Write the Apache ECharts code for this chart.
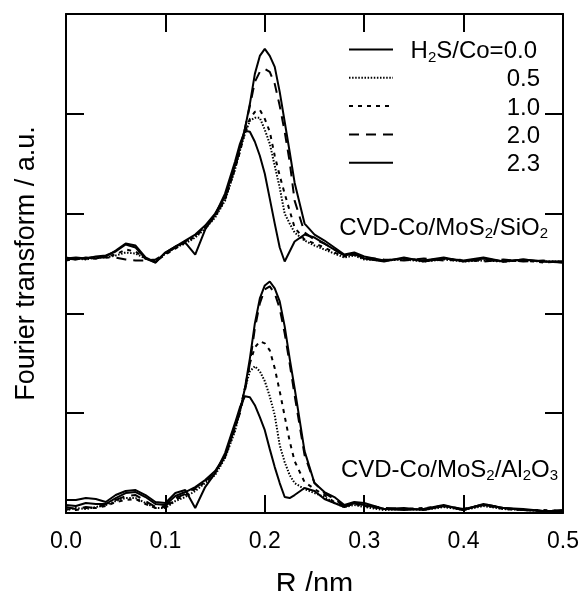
<!DOCTYPE html>
<html>
<head>
<meta charset="utf-8">
<script src="https://cdn.jsdelivr.net/npm/echarts@6/dist/echarts.min.js"></script>
<style>
html,body{margin:0;padding:0;background:#fff;}
#chart{width:586px;height:591px;}
</style>
</head>
<body>
<div id="chart"></div>
<script>
// R grid (nm)
const R = [0, 0.01, 0.02, 0.03, 0.04, 0.05, 0.06, 0.07, 0.08, 0.09, 0.10, 0.11, 0.12, 0.13, 0.14, 0.15, 0.16, 0.17, 0.175, 0.18, 0.185, 0.19, 0.195, 0.20, 0.205, 0.21, 0.215, 0.22, 0.225, 0.23, 0.24, 0.25, 0.26, 0.27, 0.28, 0.29, 0.30, 0.32, 0.34, 0.36, 0.38, 0.40, 0.42, 0.44, 0.46, 0.48, 0.50];

// H2S/Co ratio labels
const ratioLabels = ['0.0', '0.5', '1.0', '2.0', '2.3'];
const xTickLabels = ['0.0', '0.1', '0.2', '0.3', '0.4', '0.5'];

// CVD-Co/MoS2/SiO2 (upper curves, offset in a.u.)
const sio2_00 = [2.55,2.54,2.56,2.55,2.57,2.63,2.70,2.68,2.56,2.51,2.61,2.67,2.71,2.59,2.84,2.99,3.20,3.52,3.70,3.83,3.82,3.72,3.58,3.40,3.15,2.90,2.66,2.52,2.62,2.72,2.79,2.76,2.70,2.64,2.58,2.60,2.55,2.52,2.56,2.52,2.55,2.53,2.56,2.52,2.54,2.52,2.51];
const sio2_05 = [2.54,2.55,2.54,2.56,2.56,2.58,2.61,2.60,2.55,2.52,2.60,2.66,2.70,2.76,2.85,2.96,3.13,3.44,3.63,3.80,3.93,3.96,3.96,3.84,3.70,3.48,3.26,3.00,2.90,2.81,2.73,2.68,2.64,2.60,2.56,2.58,2.54,2.53,2.54,2.52,2.54,2.52,2.53,2.52,2.53,2.52,2.52];
const sio2_10 = [2.53,2.55,2.55,2.55,2.57,2.59,2.64,2.62,2.55,2.52,2.59,2.65,2.71,2.77,2.86,2.97,3.14,3.45,3.62,3.82,3.95,4.02,4.04,3.95,3.82,3.58,3.38,3.20,3.03,2.86,2.74,2.70,2.66,2.61,2.57,2.59,2.55,2.53,2.55,2.53,2.55,2.53,2.54,2.52,2.53,2.51,2.52];
const sio2_20 = [2.56,2.54,2.55,2.57,2.56,2.56,2.54,2.53,2.53,2.54,2.60,2.66,2.72,2.78,2.87,2.98,3.15,3.46,3.64,3.85,4.08,4.32,4.42,4.45,4.42,4.30,4.08,3.82,3.52,3.13,2.81,2.74,2.70,2.64,2.58,2.59,2.56,2.54,2.53,2.55,2.53,2.54,2.52,2.54,2.52,2.53,2.51];
const sio2_23 = [2.55,2.56,2.55,2.57,2.58,2.62,2.69,2.66,2.55,2.51,2.61,2.67,2.73,2.79,2.88,3.00,3.17,3.48,3.66,3.85,4.10,4.40,4.58,4.65,4.58,4.47,4.22,3.92,3.62,3.31,2.90,2.79,2.73,2.66,2.59,2.61,2.57,2.53,2.55,2.53,2.56,2.52,2.55,2.52,2.54,2.52,2.52];

// CVD-Co/MoS2/Al2O3 (lower curves)
const al2o3_00 = [0.13,0.13,0.15,0.14,0.11,0.18,0.22,0.23,0.18,0.11,0.10,0.20,0.23,0.05,0.26,0.40,0.60,0.90,1.06,1.17,1.16,1.08,0.96,0.83,0.64,0.46,0.30,0.16,0.15,0.18,0.25,0.22,0.14,0.10,0.06,0.10,0.08,0.04,0.05,0.03,0.07,0.04,0.08,0.05,0.04,0.02,0.02];
const al2o3_05 = [0.03,0.05,0.04,0.06,0.08,0.12,0.15,0.15,0.10,0.05,0.05,0.12,0.16,0.22,0.30,0.38,0.55,0.82,1.02,1.25,1.42,1.47,1.42,1.32,1.17,0.98,0.68,0.51,0.38,0.30,0.24,0.20,0.16,0.10,0.06,0.08,0.06,0.03,0.04,0.03,0.06,0.03,0.07,0.04,0.03,0.02,0.02];
const al2o3_10 = [0.04,0.03,0.05,0.05,0.07,0.11,0.13,0.14,0.09,0.05,0.06,0.13,0.18,0.24,0.31,0.40,0.56,0.84,1.03,1.25,1.50,1.66,1.72,1.70,1.63,1.45,1.22,0.97,0.72,0.52,0.31,0.24,0.18,0.11,0.07,0.09,0.07,0.04,0.04,0.05,0.07,0.04,0.08,0.04,0.03,0.03,0.02];
const al2o3_20 = [0.06,0.04,0.06,0.05,0.09,0.13,0.17,0.18,0.12,0.06,0.07,0.15,0.19,0.25,0.32,0.41,0.56,0.86,1.00,1.22,1.50,1.85,2.10,2.24,2.27,2.20,2.05,1.80,1.50,1.18,0.58,0.30,0.20,0.14,0.07,0.10,0.08,0.05,0.04,0.04,0.07,0.03,0.09,0.05,0.03,0.02,0.03];
const al2o3_23 = [0.08,0.07,0.10,0.09,0.09,0.15,0.20,0.21,0.16,0.09,0.08,0.17,0.21,0.26,0.33,0.42,0.57,0.88,1.02,1.25,1.55,1.90,2.15,2.28,2.32,2.25,2.12,1.87,1.55,1.25,0.62,0.30,0.21,0.16,0.08,0.11,0.10,0.04,0.03,0.04,0.08,0.03,0.09,0.05,0.03,0.02,0.02];

const upperSets = [sio2_00, sio2_05, sio2_10, sio2_20, sio2_23];
const lowerSets = [al2o3_00, al2o3_05, al2o3_10, al2o3_20, al2o3_23];

// styles (not data)
const FONT = "'Liberation Sans', Arial, sans-serif";
const lineStyles = [
  { type: 'solid', width: 2 },
  { type: [1.5, 1.6], width: 2 },
  { type: [4, 5], width: 2 },
  { type: [10, 7], width: 2 },
  { type: 'solid', width: 2 }
];

const zip = (vals) => R.map((r, i) => [r, vals[i]]);

const series = [];
[upperSets, lowerSets].forEach((sets) => {
  sets.forEach((vals, i) => {
    series.push({
      type: 'line',
      name: ratioLabels[i],
      data: zip(vals),
      showSymbol: false,
      symbol: 'none',
      smooth: false,
      animation: false,
      silent: true,
      lineStyle: { color: '#000', width: lineStyles[i].width, type: lineStyles[i].type, cap: 'butt' }
    });
  });
});

// legend drawn as graphic items
const legendX1 = 349, legendX2 = 393, legendY0 = 49.5, legendStep = 28.3;
const subRich = { s: { fontSize: 15, fontFamily: FONT, fill: '#000', padding: [12, 0, 0, 0] } };
const graphics = [];
ratioLabels.forEach((lab, i) => {
  const y = legendY0 + legendStep * i;
  graphics.push({
    type: 'line',
    shape: { x1: legendX1, y1: y, x2: legendX2, y2: y },
    style: { stroke: '#000', lineWidth: lineStyles[i].width, lineDash: lineStyles[i].type === 'solid' ? null : lineStyles[i].type }
  });
  const txt = i === 0 ? 'H{s|2}S/Co=' + lab : lab;
  graphics.push({
    type: 'text',
    x: i === 0 ? 537 : 540,
    y: y + 2,
    style: {
      text: txt, fill: '#000', fontSize: 24, fontFamily: FONT,
      align: 'right', verticalAlign: 'middle',
      textAlign: 'right', textVerticalAlign: 'middle',
      rich: subRich
    }
  });
});
graphics.push({
  type: 'text', x: 548, y: 228,
  style: {
    text: 'CVD-Co/MoS{s|2}/SiO{s|2}', fill: '#000', fontSize: 24, fontFamily: FONT,
    align: 'right', verticalAlign: 'middle', textAlign: 'right', textVerticalAlign: 'middle',
    rich: subRich
  }
});
graphics.push({
  type: 'text', x: 558, y: 470,
  style: {
    text: 'CVD-Co/MoS{s|2}/Al{s|2}O{s|3}', fill: '#000', fontSize: 24, fontFamily: FONT,
    align: 'right', verticalAlign: 'middle', textAlign: 'right', textVerticalAlign: 'middle',
    rich: subRich
  }
});

const mkLine = () => ({ show: true, onZero: false, lineStyle: { color: '#000', width: 2 } });
const mkTick = () => ({ show: true, inside: true, length: 18, lineStyle: { color: '#000', width: 2 } });

const chart = echarts.init(document.getElementById('chart'), null, { renderer: 'canvas' });
chart.setOption({
  backgroundColor: '#fff',
  animation: false,
  grid: { left: 66, right: 23, top: 14, bottom: 78, containLabel: false, outerBoundsMode: 'none' },
  xAxis: [
    {
      type: 'value', min: 0, max: 0.5, interval: 0.1, position: 'bottom',
      axisLine: mkLine(), axisTick: mkTick(), splitLine: { show: false },
      axisLabel: { show: true, color: '#000', fontSize: 23, fontFamily: FONT, margin: 17,
        formatter: (v) => xTickLabels[Math.round(v * 10)] },
      name: 'R /nm', nameLocation: 'middle', nameGap: 57,
      nameTextStyle: { color: '#000', fontSize: 29, fontFamily: FONT }
    },
    {
      type: 'value', min: 0, max: 0.5, interval: 0.1, position: 'top',
      axisLine: mkLine(), axisTick: mkTick(), splitLine: { show: false },
      axisLabel: { show: false }
    }
  ],
  yAxis: [
    {
      type: 'value', min: 0, max: 5, interval: 1, position: 'left',
      axisLine: mkLine(), axisTick: mkTick(), splitLine: { show: false },
      axisLabel: { show: false },
      name: 'Fourier transform / a.u.', nameLocation: 'middle', nameGap: 26,
      nameTextStyle: { color: '#000', fontSize: 27, fontFamily: FONT }
    },
    {
      type: 'value', min: 0, max: 5, interval: 1, position: 'right',
      axisLine: mkLine(), axisTick: mkTick(), splitLine: { show: false },
      axisLabel: { show: false }
    }
  ],
  series: series,
  graphic: graphics
});
</script>
</body>
</html>
